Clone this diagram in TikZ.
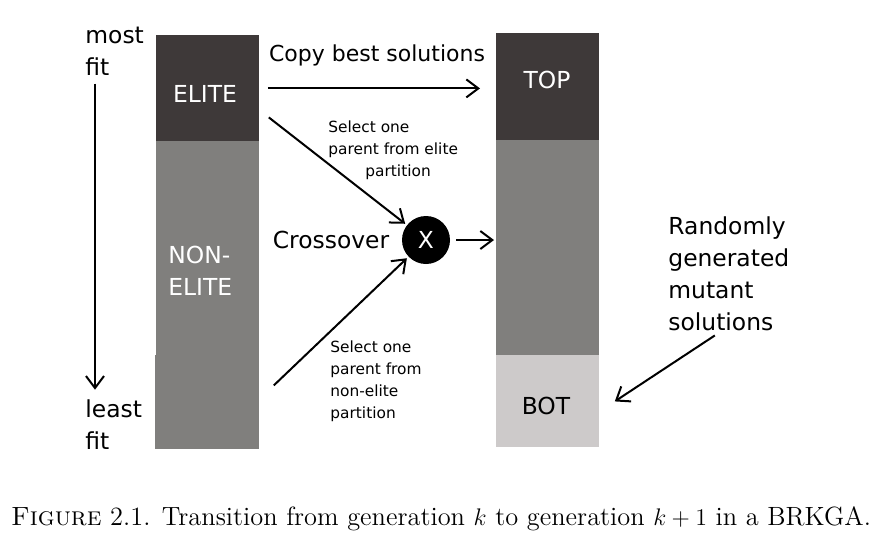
\documentclass[tikz,border=0pt]{standalone}
\usepackage{fontspec}
\newfontfamily\dejavu{DejaVu Sans}
\usetikzlibrary{arrows.meta,positioning}
\definecolor{popdark}{RGB}{62,57,57}
\definecolor{popgrey}{RGB}{128,127,125}
\definecolor{poplight}{RGB}{205,202,202}

\begin{document}
\begin{tikzpicture}[x=0.5pt,y=-0.5pt,
  block/.style={anchor=north west,inner sep=0,minimum width=51.5pt},
  big/.style={font=\dejavu\fontsize{11.7}{16}\selectfont,inner sep=0},
  small/.style={font=\dejavu\fontsize{7.7}{11}\selectfont,inner sep=0,align=left},
  arr/.style={line width=1pt,-{Straight Barb[length=6pt,width=9pt,line width=1pt]}}]
  \useasboundingbox (0,0) rectangle (880,542);

  % generation k
  \node[block,fill=popdark,minimum height=53pt] (elite) at (156,35) {};
  \node[block,fill=popgrey,minimum height=107pt] (nonelite) at (156,141) {};
  \node[block,fill=popgrey,minimum height=47pt,minimum width=52pt] (rest) at (155,355) {};
  \node[big,white] (elitelbl) at (205,94) {ELITE};
  \node[big,white,align=left,anchor=west] (nonelitelbl) at (168,271) {NON-\\ELITE};

  % generation k+1
  \node[block,fill=popdark,minimum height=53.5pt] (top) at (496,33) {};
  \node[block,fill=popgrey,minimum height=107.5pt] (mid) at (496,140) {};
  \node[block,fill=poplight,minimum height=46pt] (bot) at (496,355) {};
  \node[big,white] (toplbl) at (547,80) {TOP};
  \node[big] (botlbl) at (546,406) {BOT};

  % fitness axis
  \node[big,align=left,anchor=west] (most) at (85,51) {most\\fit};
  \node[big,align=left,anchor=west] (least) at (85,425) {least\\fit};
  \draw[arr] ([shift={(10,8)}]most.south west) -- ([shift={(10,-10)}]least.north west);

  % copy elite
  \node[big,font=\dejavu\fontsize{11}{16}\selectfont] (copy) at (377,55) {Copy best solutions};
  \draw[arr,shorten <=4pt,shorten >=8pt] (elite.east) -- (elite.east -| top.west);

  % crossover
  \node[big,circle,fill=black,text=white,minimum size=24pt] (cross) at (426,240) {X};
  \node[big,left=6pt of cross] (xlbl) {Crossover};
  \draw[arr,shorten >=1pt] ([shift={(9,29)}]elite.east) -- (cross);
  \draw[arr,shorten >=1pt] ([shift={(14,-17)}]rest.east) -- (cross);
  \draw[arr,shorten <=3pt,shorten >=1pt] (cross.east) -- (cross.east -| mid.west);

  \node[small,anchor=west] (elitenote) at (328,150) {Select one\\parent from elite\\\hspace*{18.5pt}partition};
  \node[small,anchor=west] (restnote) at (330,381) {Select one\\parent from\\non-elite\\partition};

  % mutants
  \node[big,align=left,anchor=west] (mutant) at (668,274) {Randomly\\generated\\mutant\\solutions};
  \draw[arr] ([xshift=-7pt,yshift=-2pt]mutant.south) -- ([xshift=7.5pt]bot.east);

  % caption
  \node[font=\fontsize{13.2}{15}\selectfont,inner sep=0] (caption) at (441,519)
    {\textsc{Figure} 2.1. Transition from generation $k$ to generation $k+1$ in a BRKGA.};
\end{tikzpicture}
\end{document}
